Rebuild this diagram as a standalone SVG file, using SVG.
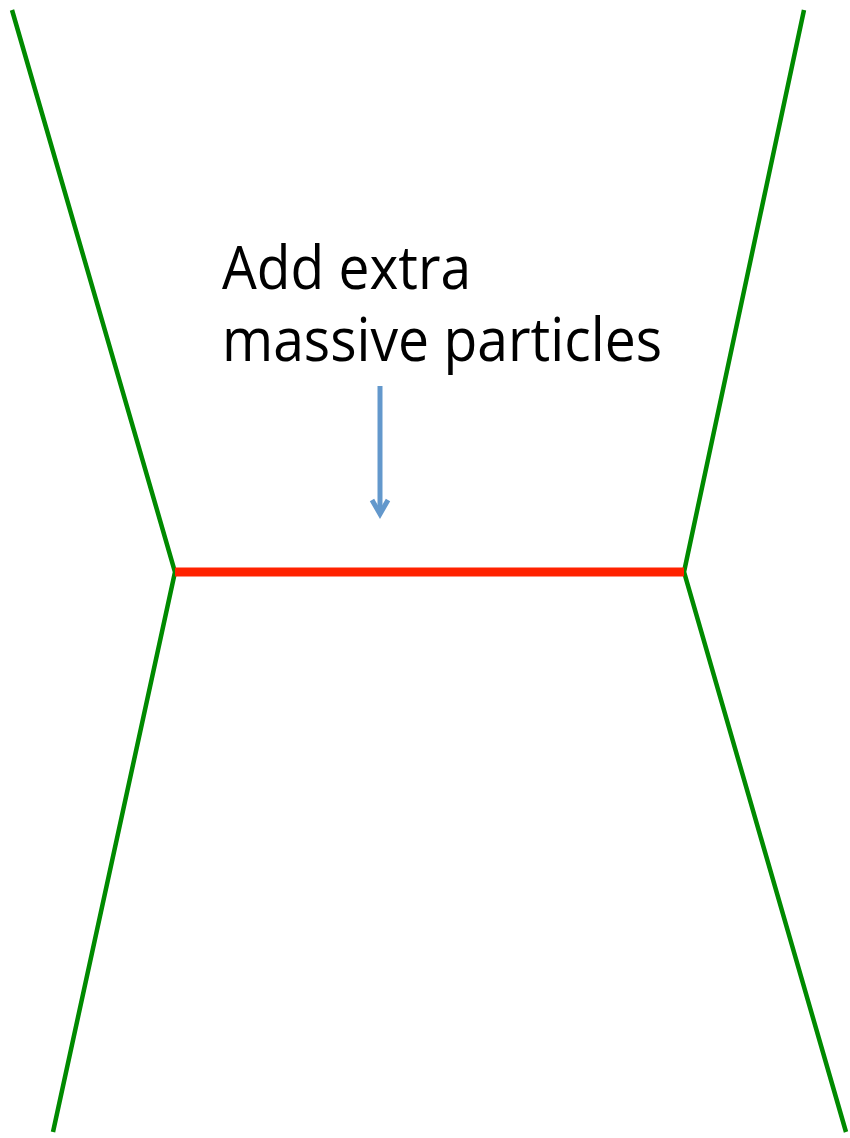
<svg xmlns="http://www.w3.org/2000/svg" width="850" height="1138" viewBox="0 0 850 1138">
<style>
.g{stroke:#008a00;stroke-width:4.5;fill:none}
.r{stroke:#ff2200;stroke-width:9;fill:none}
.a{stroke:#6398cc;stroke-width:5;fill:none}
.t{font-family:"Open Sans","Liberation Sans",sans-serif;font-size:60px;fill:#000}
</style>
<rect width="850" height="1138" fill="#fff"/>
<g id="connectors">
<polyline class="g" points="12,10 175,572 53,1132"/>
<polyline class="g" points="804,10 684,572 846,1132"/>
<line class="r" x1="175" y1="572" x2="684" y2="572"/>
</g>
<g id="arrow">
<line class="a" x1="380" y1="386" x2="380" y2="514"/>
<polyline class="a" points="372,500 380,514 388,500" stroke-linejoin="miter"/>
</g>
<g id="label">
<text class="t" x="222" y="289" textLength="249" lengthAdjust="spacingAndGlyphs">Add extra</text>
<text class="t" x="222" y="361" textLength="440" lengthAdjust="spacingAndGlyphs">massive particles</text>
</g>
</svg>
